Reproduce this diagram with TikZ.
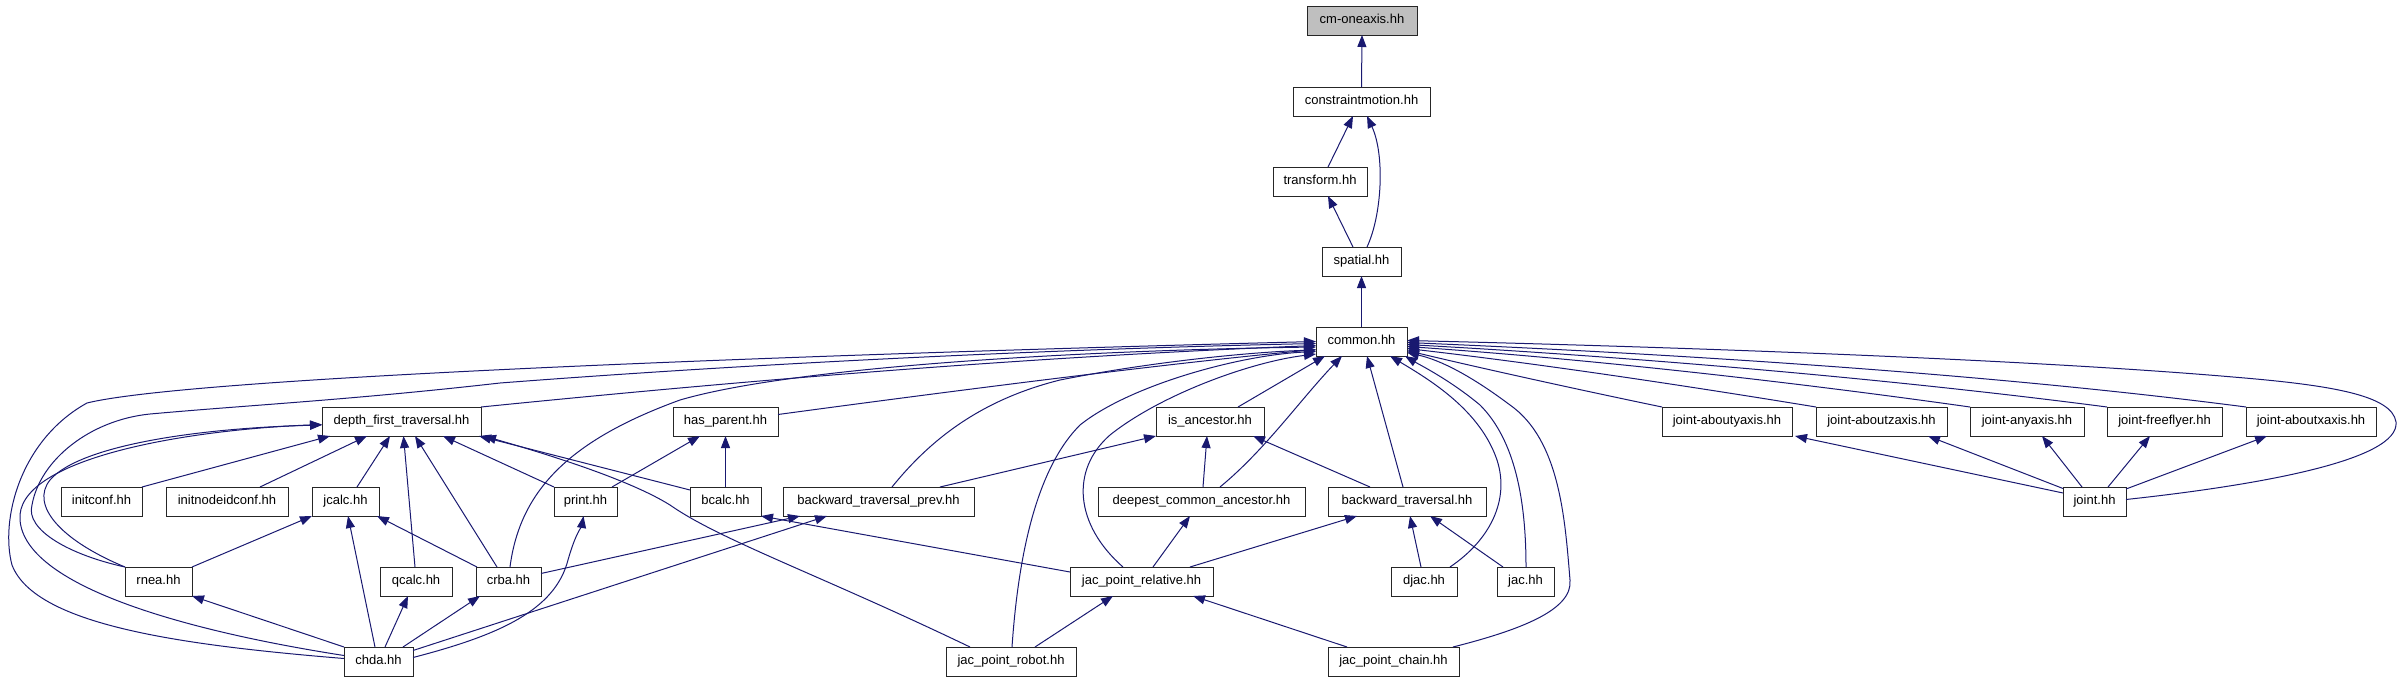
\documentclass[tikz,border=0pt]{standalone}
\usepackage{fontspec}
\setmainfont{Liberation Sans}
\usetikzlibrary{arrows.meta,calc}
\definecolor{edgeblue}{RGB}{25,25,112}
\definecolor{cmgray}{RGB}{191,191,191}
\begin{document}
\begin{tikzpicture}[x=1pt,y=-1pt,
  box/.style={draw=black!85, line width=1pt, fill=white, minimum height=29pt, inner sep=0pt, outer sep=0pt,
    font=\fontsize{13}{15}\selectfont, text height=9.6pt, text depth=2.8pt},
  dep/.style={draw=edgeblue, line width=1pt, -{Triangle[length=12pt,width=9pt]}}]
\useasboundingbox (0,0) rectangle (2401,683);
% nodes
\node[box, fill=cmgray, minimum width=110pt] (cm) at (1362,20.5) {cm-oneaxis.hh};
\node[box, minimum width=137pt] (cmotion) at (1361.5,101.5) {constraintmotion.hh};
\node[box, minimum width=94pt] (transform) at (1320,181.5) {transform.hh};
\node[box, minimum width=79pt] (spatial) at (1361.5,261.5) {spatial.hh};
\node[box, minimum width=91pt] (common) at (1361.5,341.5) {common.hh};
\node[box, minimum width=159pt] (dft) at (401.5,421.5) {depth\_first\_traversal.hh};
\node[box, minimum width=105pt] (hasparent) at (725.5,421.5) {has\_parent.hh};
\node[box, minimum width=108pt] (isanc) at (1210,421.5) {is\_ancestor.hh};
\node[box, minimum width=130pt] (jaby) at (1727,421.5) {joint-aboutyaxis.hh};
\node[box, minimum width=131pt] (jabz) at (1881.5,421.5) {joint-aboutzaxis.hh};
\node[box, minimum width=114pt] (jany) at (2027,421.5) {joint-anyaxis.hh};
\node[box, minimum width=115pt] (jff) at (2164.5,421.5) {joint-freeflyer.hh};
\node[box, minimum width=130pt] (jabx) at (2311,421.5) {joint-aboutxaxis.hh};
\node[box, minimum width=81pt] (initconf) at (101.5,501.5) {initconf.hh};
\node[box, minimum width=122pt] (initnode) at (227,501.5) {initnodeidconf.hh};
\node[box, minimum width=67pt] (jcalc) at (345.5,501.5) {jcalc.hh};
\node[box, minimum width=63pt] (print) at (585.5,501.5) {print.hh};
\node[box, minimum width=71pt] (bcalc) at (725.5,501.5) {bcalc.hh};
\node[box, minimum width=191pt] (btprev) at (878.5,501.5) {backward\_traversal\_prev.hh};
\node[box, minimum width=207pt] (dca) at (1201.5,501.5) {deepest\_common\_ancestor.hh};
\node[box, minimum width=158pt] (bt) at (1407,501.5) {backward\_traversal.hh};
\node[box, minimum width=63pt] (joint) at (2094.5,501.5) {joint.hh};
\node[box, minimum width=67pt] (rnea) at (158.5,581.5) {rnea.hh};
\node[box, minimum width=72pt] (qcalc) at (416,581.5) {qcalc.hh};
\node[box, minimum width=65pt] (crba) at (508.5,581.5) {crba.hh};
\node[box, minimum width=143pt] (jpr) at (1141.5,581.5) {jac\_point\_relative.hh};
\node[box, minimum width=66pt] (djac) at (1424,581.5) {djac.hh};
\node[box, minimum width=57pt] (jac) at (1525.5,581.5) {jac.hh};
\node[box, minimum width=69pt] (chda) at (378.5,661.5) {chda.hh};
\node[box, minimum width=130pt] (jprobot) at (1011,661.5) {jac\_point\_robot.hh};
\node[box, minimum width=131pt] (jpchain) at (1393.5,661.5) {jac\_point\_chain.hh};
% top chain
\draw[dep] (cmotion.north) -- (cm.south);
\draw[dep] ($(transform.north)+(8,0)$) -- ($(cmotion.south)+(-8.5,0)$);
\draw[dep] ($(spatial.north)+(5.5,0)$) .. controls (1382,215) and (1385,155) .. ($(cmotion.south)+(5.5,0)$);
\draw[dep] ($(spatial.north)+(-8.5,0)$) -- ($(transform.south)+(8,0)$);
\draw[dep] (common.north) -- (spatial.south);
% into common from the left
\draw[dep] ($(chda.west)+(0,-3)$) .. controls (180,645) and (35,625) .. (12,565) .. controls (0,520) and (20,440) .. (87,403) .. controls (200,375) and (900,352) .. (common.west);
\draw[dep] (rnea.north west) .. controls (70,555) and (25,530) .. (32,505) .. controls (40,460) and (90,420) .. (150,414) .. controls (250,405) and (350,400) .. (500,383) .. controls (800,360) and (1100,348) .. ($(common.west)+(0,2)$);
\draw[dep] (dft.north east) .. controls (700,385) and (1000,358) .. ($(common.west)+(0,4)$);
\draw[dep] ($(crba.north)+(1.5,0)$) .. controls (520,490) and (570,440) .. (680,400) .. controls (800,365) and (1100,350) .. ($(common.west)+(0,5.5)$);
\draw[dep] ($(hasparent.east)+(0,-7)$) .. controls (900,398) and (1150,365) .. ($(common.west)+(0,8)$);
\draw[dep] ($(btprev.north)+(13.5,0)$) .. controls (930,440) and (980,400) .. (1060,380) .. controls (1150,362) and (1250,352) .. ($(common.west)+(0,8.5)$);
\draw[dep] ($(jpr.north)+(-18.5,0)$) .. controls (1075,525) and (1070,470) .. (1110,435) .. controls (1160,395) and (1250,362) .. ($(common.south west)+(0,-2)$);
\draw[dep] ($(jprobot.north)+(1,0)$) .. controls (1018,560) and (1035,470) .. (1080,425) .. controls (1130,385) and (1240,355) .. ($(common.west)+(0,10)$);
% into common from below
\draw[dep] ($(isanc.north east)+(-26,0)$) -- ($(common.south)+(-36.5,0)$);
\draw[dep] ($(dca.north)+(18.5,0)$) .. controls (1265,450) and (1300,400) .. ($(common.south)+(-19.5,0)$);
\draw[dep] ($(bt.north)+(-4,0)$) -- ($(common.south)+(5.5,0)$);
\draw[dep] ($(djac.north east)+(-7,0)$) .. controls (1490,540) and (1510,500) .. (1497,460) .. controls (1480,410) and (1430,380) .. ($(common.south)+(28.5,0)$);
\draw[dep] ($(jac.north)+(0.5,0)$) .. controls (1526,500) and (1515,440) .. (1480,405) .. controls (1450,380) and (1420,365) .. ($(common.south east)+(-2,0)$);
\draw[dep] ($(jpchain.north east)+(-6,0)$) .. controls (1520,630) and (1573,610) .. (1570,580) .. controls (1565,520) and (1560,440) .. (1510,405) .. controls (1470,375) and (1440,360) .. ($(common.east)+(0,11)$);
% into common from the right
\draw[dep] (jaby.north west) .. controls (1580,390) and (1480,368) .. ($(common.east)+(0,9)$);
\draw[dep] (jabz.north west) .. controls (1700,388) and (1550,365) .. ($(common.east)+(0,7)$);
\draw[dep] (jany.north west) .. controls (1800,383) and (1600,360) .. ($(common.east)+(0,5)$);
\draw[dep] (jff.north west) .. controls (1900,380) and (1650,358) .. ($(common.east)+(0,3)$);
\draw[dep] (jabx.north west) .. controls (2000,375) and (1700,355) .. ($(common.east)+(0,1)$);
\draw[dep] ($(joint.east)+(0,-2)$) .. controls (2260,485) and (2400,460) .. (2396,422) .. controls (2392,395) and (2330,385) .. (2233,377) .. controls (2000,357) and (1600,345) .. ($(common.east)+(0,-1)$);
% into depth_first_traversal
\draw[dep] ($(chda.west)+(0,-6)$) .. controls (180,630) and (25,585) .. (20,520) .. controls (15,460) and (180,430) .. ($(dft.west)+(0,3)$);
\draw[dep] (rnea.north west) .. controls (60,540) and (30,505) .. (50,480) .. controls (80,445) and (200,428) .. ($(dft.west)+(0,3.5)$);
\draw[dep] (initconf.north east) -- ($(dft.south west)+(8,0)$);
\draw[dep] ($(initnode.north)+(33,0)$) -- ($(dft.south)+(-34.5,0)$);
\draw[dep] ($(jcalc.north)+(11.5,0)$) -- ($(dft.south)+(-11.5,0)$);
\draw[dep] ($(qcalc.north)+(-1,0)$) -- ($(dft.south)+(2,0)$);
\draw[dep] ($(crba.north)+(-11.5,0)$) -- ($(dft.south)+(13.5,0)$);
\draw[dep] (print.north west) -- ($(dft.south)+(41.5,0)$);
\draw[dep] ($(bcalc.north west)+(0,3)$) -- ($(dft.south east)+(-2,0)$);
\draw[dep] ($(jprobot.north west)+(24,0)$) .. controls (820,575) and (720,540) .. (670,505) .. controls (630,480) and (550,455) .. ($(dft.south east)+(3,0)$);
% jcalc
\draw[dep] (rnea.north east) -- (jcalc.south west);
\draw[dep] ($(chda.north)+(-3.5,0)$) -- ($(jcalc.south)+(2.5,0)$);
\draw[dep] ($(crba.north west)+(1,0)$) -- ($(jcalc.south east)+(-2,0)$);
% chda others
\draw[dep] (chda.north west) -- (rnea.south east);
\draw[dep] ($(chda.north)+(6.5,0)$) -- ($(qcalc.south)+(-8,0)$);
\draw[dep] ($(chda.north)+(24.5,0)$) -- ($(crba.south)+(-28.5,0)$);
\draw[dep] ($(chda.east)+(0,-11)$) -- ($(btprev.south)+(-51.5,0)$);
\draw[dep] ($(chda.east)+(0,-4)$) .. controls (500,635) and (555,610) .. (568,560) .. controls (575,535) and (582,525) .. ($(print.south)+(-2,0)$);
\draw[dep] ($(crba.east)+(0,-8)$) -- ($(btprev.south)+(-78.5,0)$);
% has_parent
\draw[dep] ($(print.north east)+(-5,0)$) -- ($(hasparent.south)+(-25.5,0)$);
\draw[dep] (bcalc.north) -- (hasparent.south);
\draw[dep] ($(jpr.west)+(0,-9.5)$) -- (bcalc.south east);
% is_ancestor
\draw[dep] ($(btprev.north east)+(-34,0)$) -- (isanc.south west);
\draw[dep] ($(dca.north)+(1.5,0)$) -- ($(isanc.south)+(-3,0)$);
\draw[dep] ($(bt.north)+(-37,0)$) -- ($(isanc.south east)+(-11,0)$);
% jac_point_relative and backward_traversal
\draw[dep] ($(jpr.north)+(11.5,0)$) -- ($(dca.south)+(-11.5,0)$);
\draw[dep] ($(jpr.north east)+(-23,0)$) -- ($(bt.south)+(-50,0)$);
\draw[dep] ($(jprobot.north)+(24,0)$) -- ($(jpr.south)+(-28.5,0)$);
\draw[dep] ($(jpchain.north)+(-46.5,0)$) -- ($(jpr.south)+(51.5,0)$);
\draw[dep] ($(djac.north)+(-3,0)$) -- ($(bt.south)+(3,0)$);
\draw[dep] ($(jac.north west)+(6,0)$) -- ($(bt.south)+(23,0)$);
% joint
\draw[dep] ($(joint.west)+(0,-8.5)$) -- ($(jaby.south east)+(3,0)$);
\draw[dep] ($(joint.west)+(0,-13)$) -- ($(jabz.south east)+(-19,0)$);
\draw[dep] ($(joint.north)+(-12.5,0)$) -- ($(jany.south)+(15,0)$);
\draw[dep] ($(joint.north)+(13.5,0)$) -- ($(jff.south)+(-14.5,0)$);
\draw[dep] ($(joint.north east)+(0,2)$) -- ($(jabx.south)+(-44,0)$);
\end{tikzpicture}
\end{document}
